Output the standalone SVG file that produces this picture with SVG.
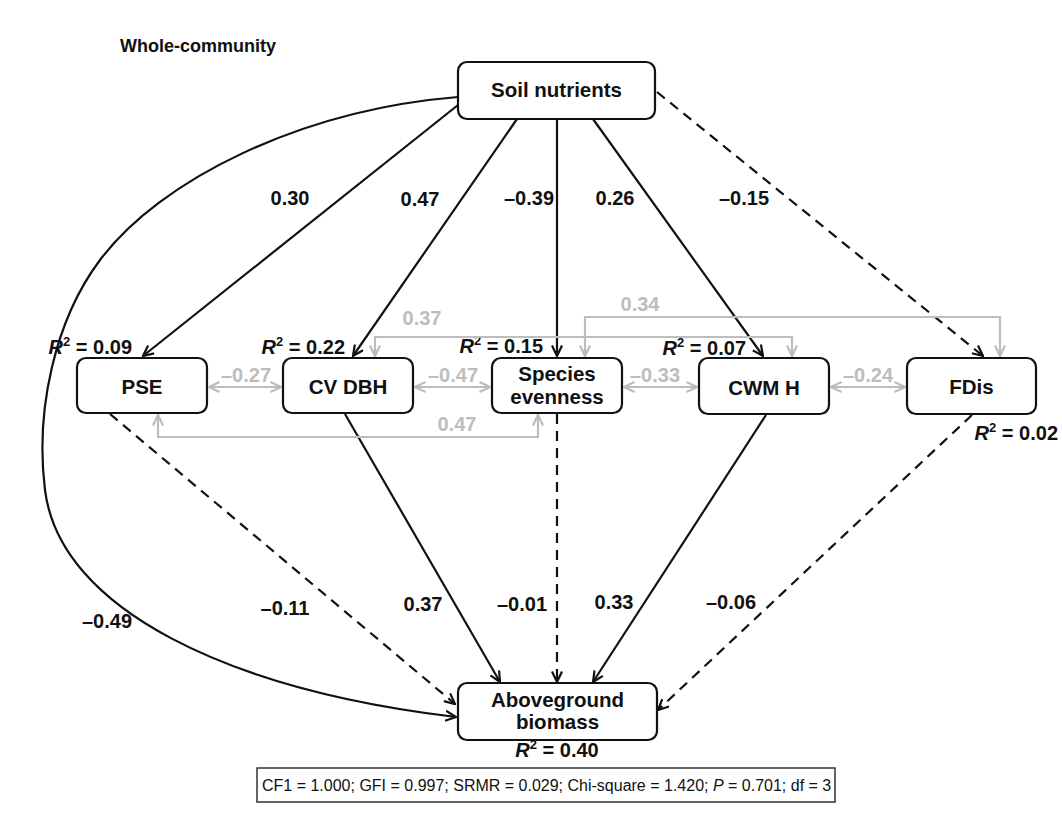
<svg xmlns="http://www.w3.org/2000/svg" width="1062" height="814" viewBox="0 0 1062 814">
<style>
text{font-family:"Liberation Sans",Arial,Helvetica,sans-serif;}
.box{fill:#fff;stroke:#111;stroke-width:2.2}
.nt{font-size:20.5px;font-weight:bold;fill:#111;text-anchor:middle}
.lb{font-size:20px;font-weight:bold;fill:#111;text-anchor:middle}
.gl{font-size:20px;font-weight:bold;fill:#bdbdbd;text-anchor:middle}
.r2{font-size:20px;font-weight:bold;fill:#111}
.blk{fill:none;stroke:#111;stroke-width:2.2;marker-end:url(#ab)}
.dsh{stroke-dasharray:10 7}
.gry{fill:none;stroke:#bdbdbd;stroke-width:2.2;marker-start:url(#ag);marker-end:url(#ag)}
</style>
<defs>
<marker id="ab" viewBox="0 0 12 12" refX="11" refY="6" markerWidth="12" markerHeight="12" markerUnits="userSpaceOnUse" orient="auto-start-reverse"><path d="M0.5,1 L11,6 L0.5,11" fill="none" stroke="#111" stroke-width="2.2"/></marker>
<marker id="ag" viewBox="0 0 12 12" refX="11" refY="6" markerWidth="12" markerHeight="12" markerUnits="userSpaceOnUse" orient="auto-start-reverse"><path d="M0.5,1 L11,6 L0.5,11" fill="none" stroke="#bdbdbd" stroke-width="2.2"/></marker>
</defs>
<rect width="1062" height="814" fill="#fff"/>
<text x="120" y="52" font-size="18" font-weight="bold" fill="#111">Whole-community</text>

<g id="soil"><rect class="box" x="458" y="62" width="197" height="57" rx="9"/><text class="nt" x="556.5" y="97">Soil nutrients</text></g>
<g id="pse"><rect class="box" x="77" y="358" width="130" height="55" rx="9"/><text class="nt" x="142" y="394">PSE</text><text class="r2" x="132" y="354" text-anchor="end"><tspan font-style="italic">R</tspan><tspan font-size="13" dy="-8">2</tspan><tspan dy="8"> = 0.09</tspan></text></g>
<g id="cvdbh"><rect class="box" x="283" y="358" width="130" height="55" rx="9"/><text class="nt" x="348" y="394">CV DBH</text><text class="r2" x="345" y="354" text-anchor="end"><tspan font-style="italic">R</tspan><tspan font-size="13" dy="-8">2</tspan><tspan dy="8"> = 0.22</tspan></text></g>
<g id="evenness"><rect class="box" x="492" y="358" width="130" height="55" rx="9"/><text class="nt" x="557" y="381">Species</text><text class="nt" x="557" y="404">evenness</text><text class="r2" x="543" y="353" text-anchor="end"><tspan font-style="italic">R</tspan><tspan font-size="13" dy="-8">2</tspan><tspan dy="8"> = 0.15</tspan></text></g>
<g id="cwmh"><rect class="box" x="699" y="358" width="130" height="56" rx="9"/><text class="nt" x="764" y="395">CWM H</text><text class="r2" x="746" y="355" text-anchor="end"><tspan font-style="italic">R</tspan><tspan font-size="13" dy="-8">2</tspan><tspan dy="8"> = 0.07</tspan></text></g>
<g id="fdis"><rect class="box" x="907" y="358" width="129" height="56" rx="9"/><text class="nt" x="971.5" y="394">FDis</text><text class="r2" x="1058" y="440" text-anchor="end"><tspan font-style="italic">R</tspan><tspan font-size="13" dy="-8">2</tspan><tspan dy="8"> = 0.02</tspan></text></g>
<g id="agb"><rect class="box" x="458" y="683" width="199" height="57" rx="9"/><text class="nt" x="557.5" y="707">Aboveground</text><text class="nt" x="557.5" y="729">biomass</text><text class="r2" x="557" y="757" text-anchor="middle"><tspan font-style="italic">R</tspan><tspan font-size="13" dy="-8">2</tspan><tspan dy="8"> = 0.40</tspan></text></g>

<g id="connectors">
<path class="blk" d="M458,97 C300,110 160,180 100,260 C55,320 35,410 45,490 C60,610 230,690 456,717"/>
<path class="blk" d="M458,105 L143,356"/>
<path class="blk" d="M517,119 L353,356"/>
<path class="blk" d="M557,119 L557,356"/>
<path class="blk" d="M593,119 L763,356"/>
<path class="blk dsh" d="M657,92 L983,356"/>
<path class="blk dsh" d="M110,414 L455,704"/>
<path class="blk" d="M345,414 L500,682"/>
<path class="blk dsh" d="M557,414 L557,682"/>
<path class="blk" d="M766,415 L593,682"/>
<path class="blk dsh" d="M972,415 L658,710"/>
<path class="gry" d="M209,387 H281"/>
<path class="gry" d="M415,387 H490"/>
<path class="gry" d="M624,387 H697"/>
<path class="gry" d="M831,387 H905"/>
<path class="gry" d="M375,356 V337 H792 V356"/>
<path class="gry" d="M585,356 V317 H1000 V356"/>
<path class="gry" d="M158,415 V437 H538 V415"/>
<text class="lb" x="290" y="205">0.30</text>
<text class="lb" x="420" y="206">0.47</text>
<text class="lb" x="529" y="205">–0.39</text>
<text class="lb" x="615" y="205">0.26</text>
<text class="lb" x="744" y="205">–0.15</text>
<text class="gl" x="422" y="325">0.37</text>
<text class="gl" x="640" y="311">0.34</text>
<text class="gl" x="246" y="382">–0.27</text>
<text class="gl" x="453" y="382">–0.47</text>
<text class="gl" x="655" y="382">–0.33</text>
<text class="gl" x="868" y="382">–0.24</text>
<text class="gl" x="457" y="431">0.47</text>
<text class="lb" x="107" y="628">–0.49</text>
<text class="lb" x="285" y="615">–0.11</text>
<text class="lb" x="423" y="611">0.37</text>
<text class="lb" x="522" y="611">–0.01</text>
<text class="lb" x="614" y="609">0.33</text>
<text class="lb" x="731" y="609">–0.06</text>
</g>

<g id="fit">
<rect x="257" y="768" width="578" height="34" fill="none" stroke="#333" stroke-width="1.5"/>
<text x="262" y="791" font-size="16" fill="#111">CF1 = 1.000; GFI = 0.997; SRMR = 0.029; Chi-square = 1.420; <tspan font-style="italic">P</tspan> = 0.701; df = 3</text>
</g>
</svg>
